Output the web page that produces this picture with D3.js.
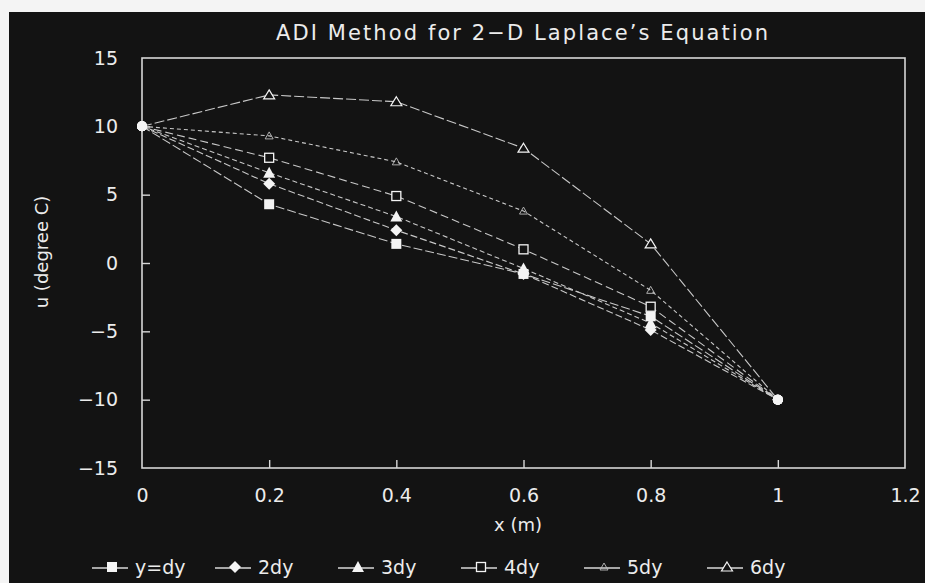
<!DOCTYPE html>
<html>
<head>
<meta charset="utf-8">
<script src="https://cdn.jsdelivr.net/npm/d3@7"></script>
<style>
  html, body { margin: 0; padding: 0; background: #f4f4f4; }
  svg { display: block; }
  text { font-family: "DejaVu Sans", "Noto Sans", sans-serif; fill: #ececec; }
</style>
</head>
<body>
<svg id="chart" width="925" height="583"></svg>
<script>
// ---- data ----
const xValues = [0, 0.2, 0.4, 0.6, 0.8, 1.0];
const seriesNames = ["y=dy", "2dy", "3dy", "4dy", "5dy", "6dy"];
const s1 = [10, 4.3, 1.4, -0.8, -3.9, -10];
const s2 = [10, 5.8, 2.4, -0.8, -4.9, -10];
const s3 = [10, 6.6, 3.4, -0.4, -4.4, -10];
const s4 = [10, 7.7, 4.9, 1.0, -3.2, -10];
const s5 = [10, 9.3, 7.4, 3.8, -2.0, -10];
const s6 = [10, 12.3, 11.8, 8.4, 1.4, -10];
const seriesValues = [s1, s2, s3, s4, s5, s6];
const xTicks = [0, 0.2, 0.4, 0.6, 0.8, 1, 1.2];
const yTicks = [-15, -10, -5, 0, 5, 10, 15];
const titleText = "ADI Method for 2\u2212D Laplace\u2019s Equation";
const xLabel = "x (m)";
const yLabel = "u (degree C)";

// ---- styles per series ----
const markerTypes = ["square", "diamond", "triangle", "squareOpen", "tiny", "triangleOpen"];
const dashes = ["9,3", "7,3", "5,3", "8,4", "4,3", "10,3"];
const lineColor = "#c8c8c8";

const svg = d3.select("#chart");
const W = 925, H = 583;
svg.append("rect").attr("x", 0).attr("y", 0).attr("width", W).attr("height", H).attr("fill", "#f4f4f4");
svg.append("rect").attr("x", 9).attr("y", 12).attr("width", W - 9).attr("height", H - 12).attr("fill", "#131313");

const m = { left: 142, right: 905, top: 58, bottom: 468 };
const x = d3.scaleLinear().domain([0, 1.2]).range([m.left, m.right]);
const y = d3.scaleLinear().domain([-15, 15]).range([m.bottom, m.top]);

// box
svg.append("rect").attr("x", m.left).attr("y", m.top)
  .attr("width", m.right - m.left).attr("height", m.bottom - m.top)
  .attr("fill", "none").attr("stroke", "#d8d8d8").attr("stroke-width", 1.6);

// axes
const xAxis = d3.axisBottom(x).tickValues(xTicks)
  .tickFormat(d => d3.format("")(+d.toFixed(1))).tickSizeInner(-8).tickSizeOuter(0).tickPadding(21);
const gx = svg.append("g").attr("transform", `translate(0,${m.bottom})`).call(xAxis);
gx.select(".domain").remove();
gx.selectAll(".tick line").attr("stroke", "#d8d8d8").attr("stroke-width", 1.4)
  .filter(d => d === 0 || d === 1.2).remove();
gx.selectAll(".tick text").attr("font-size", 19).attr("fill", "#ececec")
  .style("font-family", '"DejaVu Sans", sans-serif');

const yAxis = d3.axisLeft(y).tickValues(yTicks)
  .tickFormat(d => d < 0 ? "\u2212" + Math.abs(d) : String(d)).tickSizeInner(-8).tickSizeOuter(0).tickPadding(24);
const gy = svg.append("g").attr("transform", `translate(${m.left},0)`).call(yAxis);
gy.select(".domain").remove();
gy.selectAll(".tick line").attr("stroke", "#d8d8d8").attr("stroke-width", 1.4)
  .filter(d => d === 15 || d === -15).remove();
gy.selectAll(".tick text").attr("font-size", 19).attr("fill", "#ececec")
  .style("font-family", '"DejaVu Sans", sans-serif');

// title & labels
svg.append("text").attr("x", 522).attr("y", 40).attr("text-anchor", "middle")
  .attr("font-size", 21).attr("textLength", 492).attr("lengthAdjust", "spacing").text(titleText);
svg.append("text").attr("x", 518).attr("y", 531).attr("text-anchor", "middle")
  .attr("font-size", 18).text(xLabel);
svg.append("text").attr("transform", "translate(48,252) rotate(-90)").attr("text-anchor", "middle")
  .attr("font-size", 18).text(yLabel);

// marker drawer
function drawMarker(g, type, cx, cy) {
  const c = "#f4f4f4";
  if (type === "square") {
    g.append("rect").attr("x", cx - 5).attr("y", cy - 5).attr("width", 10).attr("height", 10).attr("fill", c);
  } else if (type === "diamond") {
    g.append("path").attr("d", `M${cx},${cy-6}L${cx+6},${cy}L${cx},${cy+6}L${cx-6},${cy}Z`).attr("fill", c);
  } else if (type === "triangle") {
    g.append("path").attr("d", `M${cx},${cy-6}L${cx+6},${cy+5}L${cx-6},${cy+5}Z`).attr("fill", c);
  } else if (type === "squareOpen") {
    g.append("rect").attr("x", cx - 4.5).attr("y", cy - 4.5).attr("width", 9).attr("height", 9)
      .attr("fill", "#131313").attr("stroke", c).attr("stroke-width", 1.3);
  } else if (type === "tiny") {
    g.append("path").attr("d", `M${cx},${cy-4}L${cx+4},${cy+3}L${cx-4},${cy+3}Z`)
      .attr("fill", "none").attr("stroke", "#bdbdbd").attr("stroke-width", 0.9);
  } else if (type === "triangleOpen") {
    g.append("path").attr("d", `M${cx},${cy-5}L${cx+5.5},${cy+4}L${cx-5.5},${cy+4}Z`)
      .attr("fill", "#131313").attr("stroke", c).attr("stroke-width", 1.2);
  }
}

const line = d3.line().x(d => x(d[0])).y(d => y(d[1]));
const plot = svg.append("g");
seriesValues.forEach((vals, i) => {
  const pts = xValues.map((xv, j) => [xv, vals[j]]);
  plot.append("path").datum(pts).attr("d", line).attr("fill", "none")
    .attr("stroke", lineColor).attr("stroke-width", 1.1).attr("stroke-dasharray", dashes[i]);
});
seriesValues.forEach((vals, i) => {
  const g = plot.append("g");
  xValues.forEach((xv, j) => {
    if (xv === 0 || xv === 1) {
      g.append("circle").attr("cx", x(xv)).attr("cy", y(vals[j])).attr("r", 5).attr("fill", "#f4f4f4");
    } else {
      drawMarker(g, markerTypes[i], x(xv), y(vals[j]));
    }
  });
});

// legend: equal-width slots
const legend = svg.append("g");
const legStart = 92, slotW = 123, ly = 567;
seriesNames.forEach((name, i) => {
  const lx = legStart + i * slotW;
  const g = legend.append("g");
  g.append("line").attr("x1", lx).attr("x2", lx + 36).attr("y1", ly + 1).attr("y2", ly + 1)
    .attr("stroke", "#d8d8d8").attr("stroke-width", 1.3);
  drawMarker(g, markerTypes[i], lx + 20, ly);
  g.append("text").attr("x", lx + 43).attr("y", ly + 7).attr("font-size", 19).text(name);
});
</script>
</body>
</html>
